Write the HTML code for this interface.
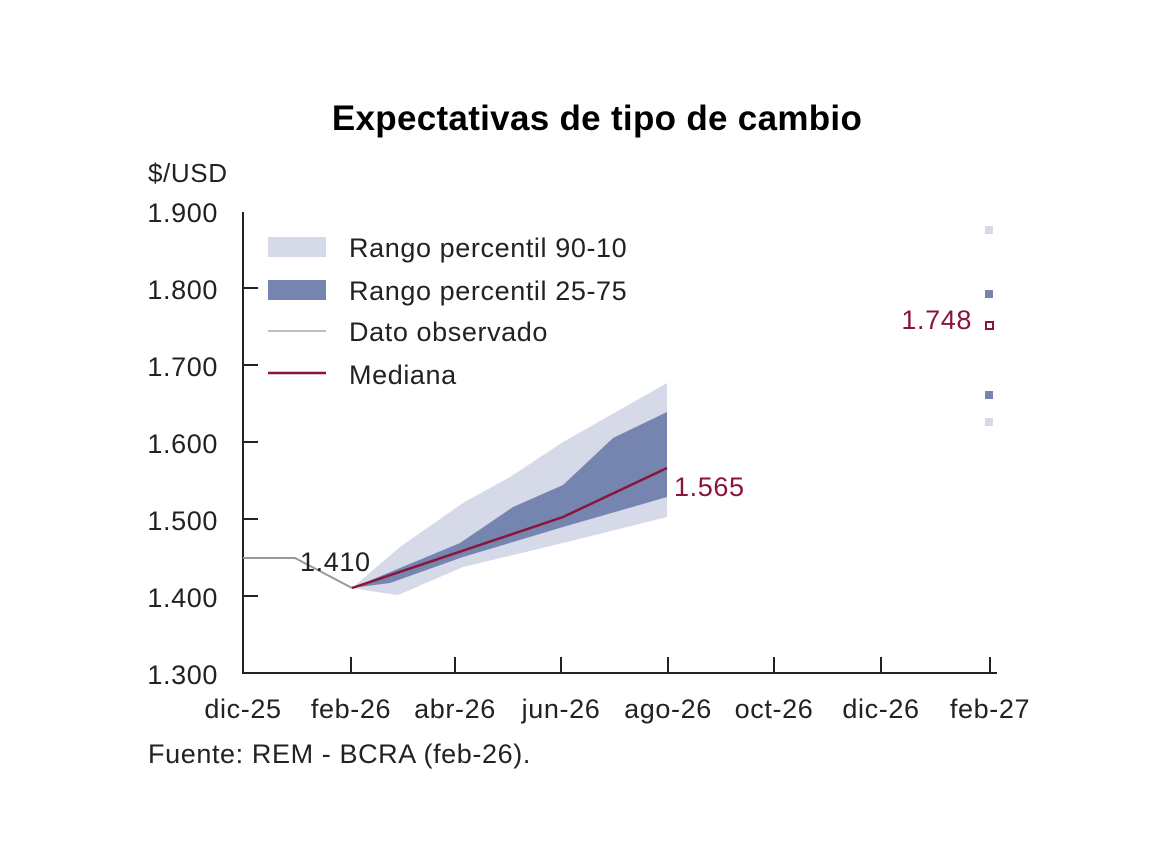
<!DOCTYPE html>
<html><head><style>
body{margin:0;background:#fff;}
svg text{font-family:"Liberation Sans",sans-serif;letter-spacing:0.6px;}
</style></head><body>
<svg width="1154" height="839" xmlns="http://www.w3.org/2000/svg">
<text x="597" y="130" text-anchor="middle" font-size="35" font-weight="bold" fill="#000" style="letter-spacing:0.3px">Expectativas de tipo de cambio</text>
<text x="148" y="182" font-size="26" fill="#222">$/USD</text>
<g font-size="27" fill="#222" text-anchor="end">
<text x="218" y="222">1.900</text>
<text x="218" y="299">1.800</text>
<text x="218" y="376">1.700</text>
<text x="218" y="453">1.600</text>
<text x="218" y="530">1.500</text>
<text x="218" y="607">1.400</text>
<text x="218" y="684">1.300</text>
</g>
<g stroke="#222" stroke-width="2" fill="none">
<path d="M243,212 V673 H997"/>
<path d="M243,288 h15 M243,365 h15 M243,442 h15 M243,519 h15 M243,596 h15"/>
<path d="M351,673 v-16 M455,673 v-16 M561,673 v-16 M668,673 v-16 M774,673 v-16 M881,673 v-16 M990,673 v-16"/>
</g>
<g font-size="27" fill="#222" text-anchor="middle">
<text x="243" y="718">dic-25</text>
<text x="351" y="718">feb-26</text>
<text x="455" y="718">abr-26</text>
<text x="561" y="718">jun-26</text>
<text x="668" y="718">ago-26</text>
<text x="774" y="718">oct-26</text>
<text x="881" y="718">dic-26</text>
<text x="990" y="718">feb-27</text>
</g>
<text x="148" y="763" font-size="27" fill="#222">Fuente: REM - BCRA (feb-26).</text>
<polygon fill="#d5d9e8" points="352,588 400,547 463,503 510,477 563,442 667,383 667,517 563,543 463,567 398,595 377,592"/>
<polygon fill="#7585b0" points="352,588 460,543 513,507 563,485 613,438 667,412 667,497 563,527 463,557 390,583"/>
<polyline fill="none" stroke="#999" stroke-width="2" points="243,558 295,558 352,588"/>
<polyline fill="none" stroke="#8b1538" stroke-width="2.5" points="352,588 563,517 667,468"/>
<text x="300" y="571" font-size="27" fill="#222">1.410</text>
<text x="674" y="496" font-size="27" fill="#8b1538">1.565</text>
<rect x="268" y="237" width="58" height="20" fill="#d5d9e8"/>
<rect x="268" y="280" width="58" height="20" fill="#7585b0"/>
<line x1="268" y1="331" x2="326" y2="331" stroke="#aaa" stroke-width="1.5"/>
<line x1="268" y1="373" x2="326" y2="373" stroke="#8b1538" stroke-width="2.5"/>
<g font-size="27" fill="#222">
<text x="349" y="257">Rango percentil 90-10</text>
<text x="349" y="300">Rango percentil 25-75</text>
<text x="349" y="341">Dato observado</text>
<text x="349" y="384">Mediana</text>
</g>
<rect x="985" y="226" width="8" height="8" fill="#d5d9e8"/>
<rect x="985" y="290" width="8" height="8" fill="#7585b0"/>
<rect x="986" y="322" width="7" height="7" fill="none" stroke="#8b1538" stroke-width="2"/>
<rect x="985" y="391" width="8" height="8" fill="#7585b0"/>
<rect x="985" y="418" width="8" height="8" fill="#d5d9e8"/>
<text x="972" y="329" font-size="27" fill="#8b1538" text-anchor="end">1.748</text>
</svg>
</body></html>
